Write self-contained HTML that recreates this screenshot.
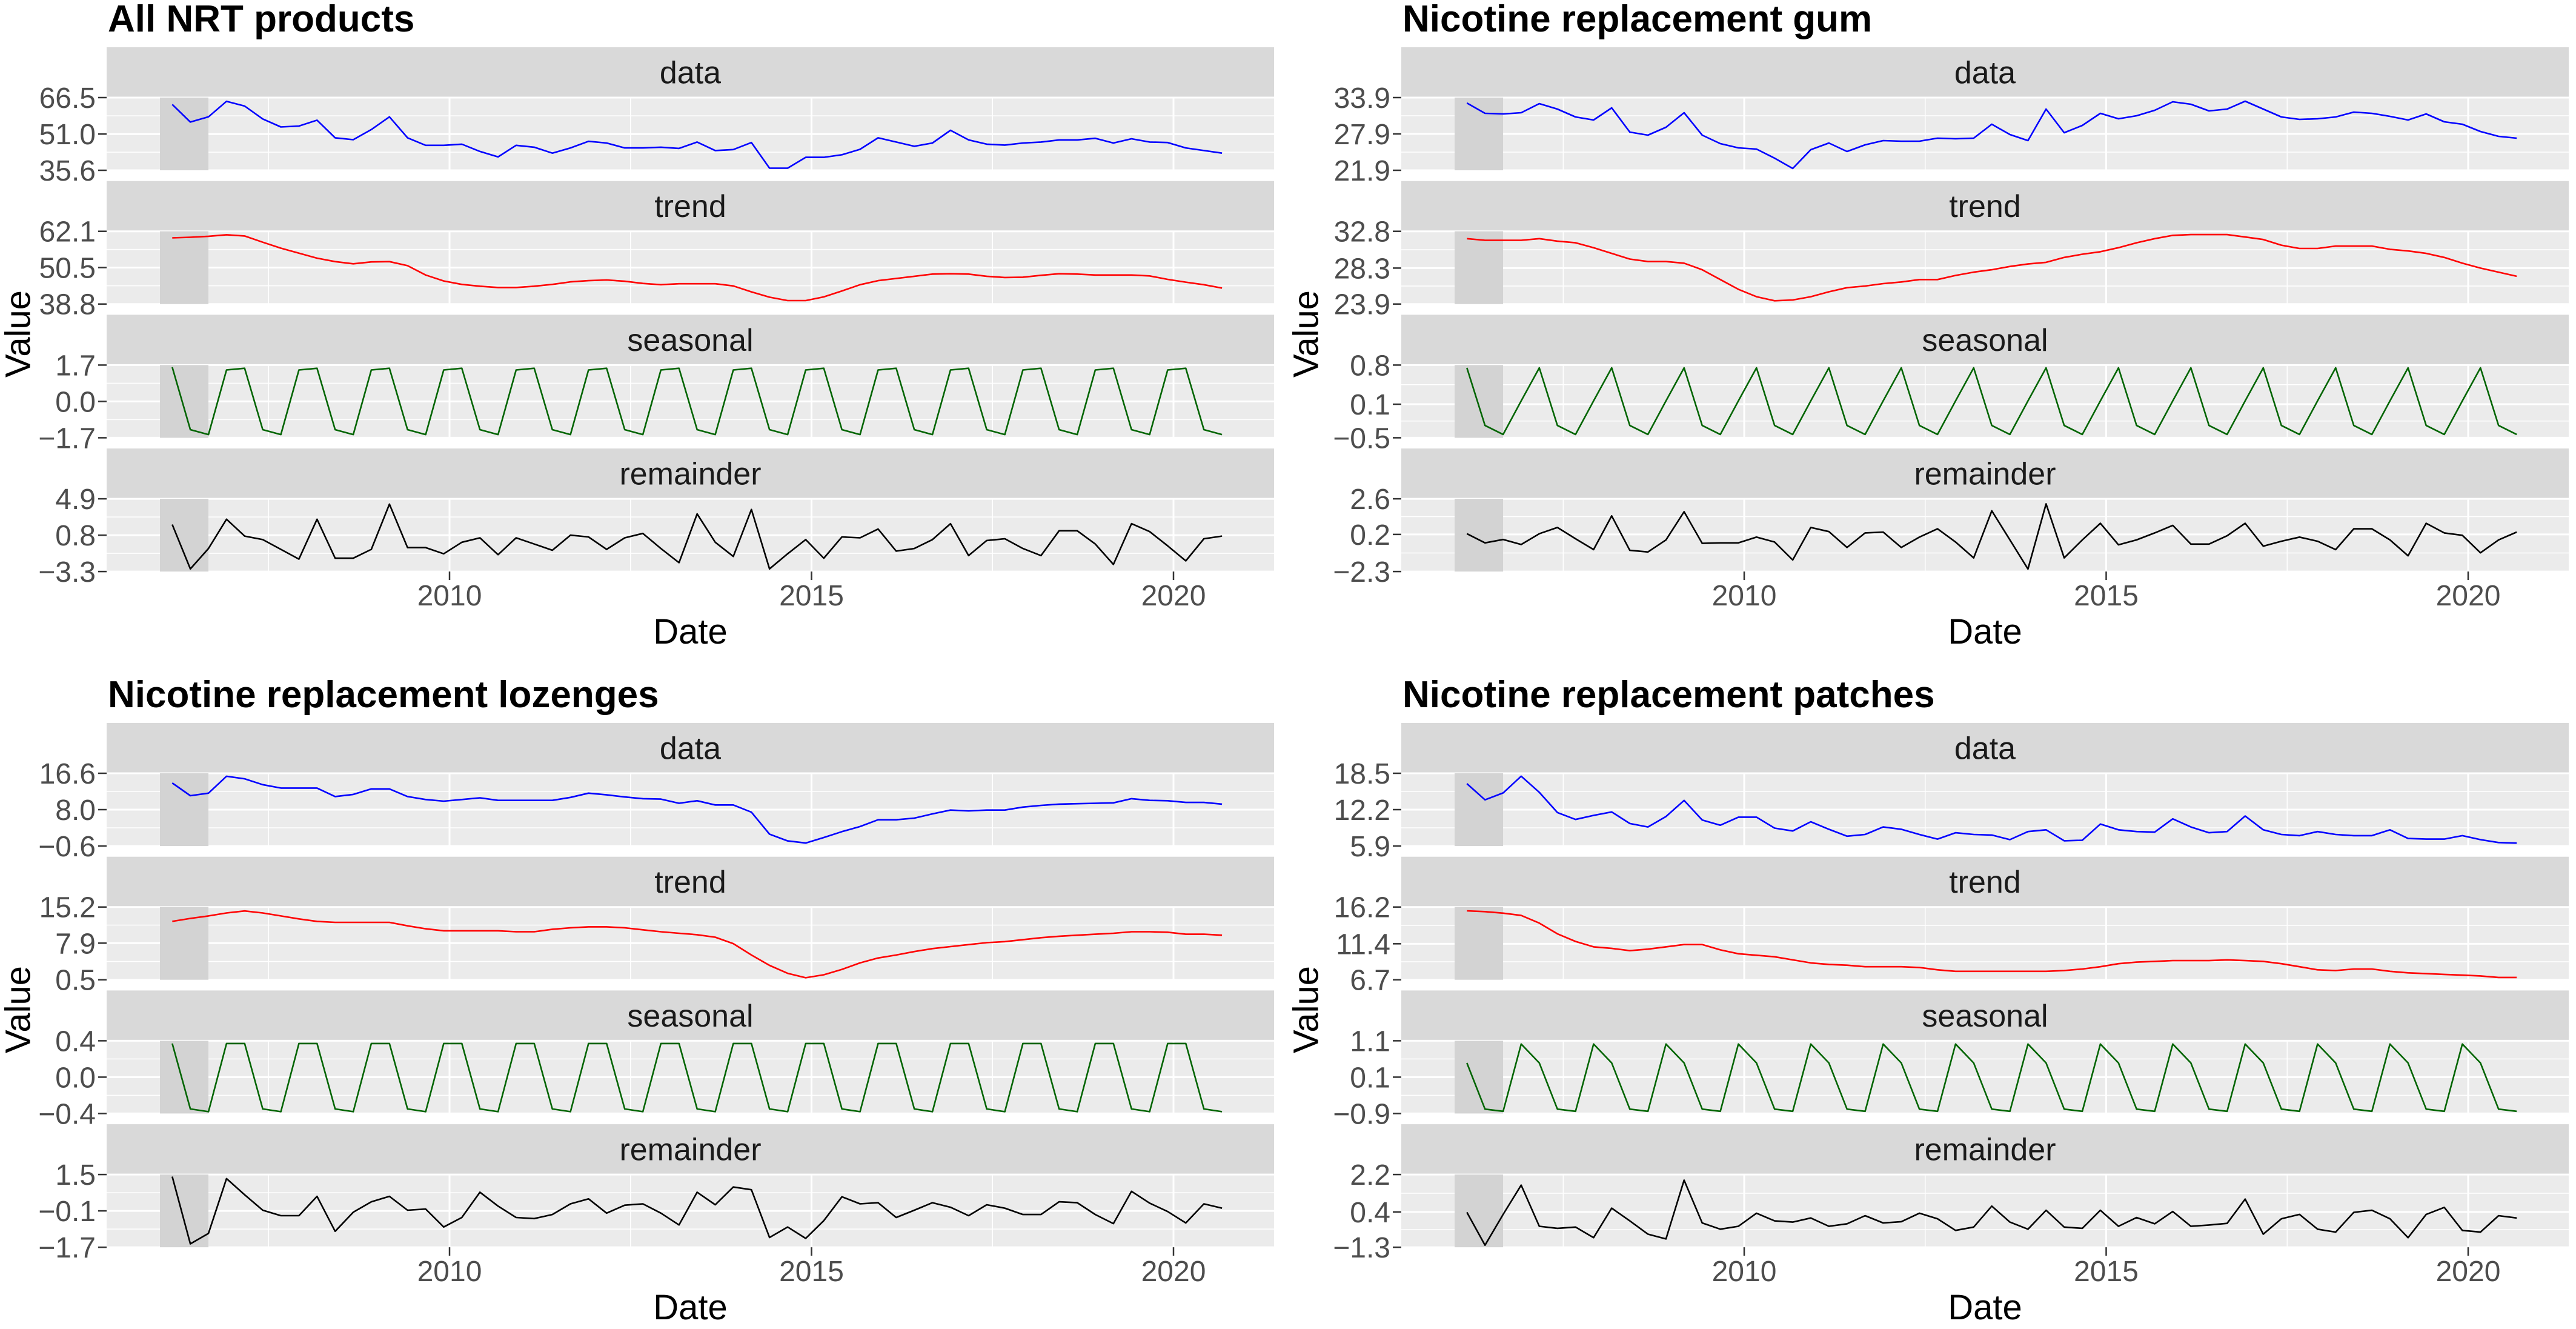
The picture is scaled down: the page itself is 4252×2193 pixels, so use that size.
<!DOCTYPE html>
<html><head><meta charset="utf-8"><style>
html,body{margin:0;padding:0;background:#fff;}
svg{display:block;font-family:"Liberation Sans",Arial,sans-serif;}
</style></head><body>
<svg id="chart" width="4252" height="2193" viewBox="0 0 4252 2193" xmlns="http://www.w3.org/2000/svg"></svg>
<script>
const componentNames = ["data","trend","seasonal","remainder"];
const panelTitles = ["All NRT products","Nicotine replacement gum","Nicotine replacement lozenges","Nicotine replacement patches"];
const xTickYears = [2010, 2015, 2020];
const startYear = 2006.17;
const stepYear = 0.25;
const shadeStart = 2006.0, shadeEnd = 2006.67;

const ticksAll = [[35.6,51.0,66.5],[38.8,50.5,62.1],[-1.7,0.0,1.7],[-3.3,0.8,4.9]];
const ticksGum = [[21.9,27.9,33.9],[23.9,28.3,32.8],[-0.5,0.1,0.8],[-2.3,0.2,2.6]];
const ticksLoz = [[-0.6,8.0,16.6],[0.5,7.9,15.2],[-0.4,0.0,0.4],[-1.7,-0.1,1.5]];
const ticksPat = [[5.9,12.2,18.5],[6.7,11.4,16.2],[-0.9,0.1,1.1],[-1.3,0.4,2.2]];

const allData = [63.6,56.1,58.3,64.9,62.9,57.4,54.0,54.4,56.9,49.4,48.6,52.9,58.3,49.4,46.2,46.2,46.7,43.6,41.3,46.2,45.4,42.9,45.1,47.9,47.2,45.1,45.1,45.4,44.9,47.6,44.0,44.4,47.4,36.5,36.5,41.1,41.1,42.2,44.5,49.4,47.6,45.8,47.2,52.6,48.5,46.7,46.3,47.2,47.6,48.5,48.5,49.2,47.2,49.0,47.6,47.4,45.1,44.0,42.9];
const allTrend = [60.0,60.2,60.5,61.0,60.6,58.6,56.7,55.1,53.5,52.4,51.7,52.3,52.4,51.1,48.1,46.2,45.1,44.5,44.1,44.1,44.5,45.1,45.9,46.3,46.5,46.1,45.4,45.0,45.3,45.3,45.3,44.6,42.7,41.0,39.9,39.9,41.1,43.0,45.0,46.3,47.0,47.7,48.4,48.5,48.4,47.7,47.3,47.4,48.0,48.5,48.4,48.1,48.1,48.1,47.8,46.7,45.8,45.0,43.9];
const allSeasonal = [1.6,-1.32,-1.55,1.47,1.55,-1.32,-1.55,1.47,1.55,-1.32,-1.55,1.47,1.55,-1.32,-1.55,1.47,1.55,-1.32,-1.55,1.47,1.55,-1.32,-1.55,1.47,1.55,-1.32,-1.55,1.47,1.55,-1.32,-1.55,1.47,1.55,-1.32,-1.55,1.47,1.55,-1.32,-1.55,1.47,1.55,-1.32,-1.55,1.47,1.55,-1.32,-1.55,1.47,1.55,-1.32,-1.55,1.47,1.55,-1.32,-1.55,1.47,1.55,-1.32,-1.55];
const allRemainder = [2.0,-3.0,-0.7,2.6,0.7,0.3,-0.8,-1.9,2.6,-1.8,-1.8,-0.8,4.3,-0.6,-0.6,-1.3,0.0,0.5,-1.4,0.5,-0.2,-0.9,0.8,0.6,-0.8,0.5,1.0,-0.7,-2.3,3.2,0.0,-1.6,3.7,-3.0,-1.3,0.3,-1.8,0.6,0.5,1.5,-1.0,-0.7,0.3,2.1,-1.5,0.2,0.4,-0.7,-1.5,1.3,1.3,-0.2,-2.5,2.1,1.2,-0.4,-2.1,0.4,0.7];

const gumData = [33.0,31.3,31.2,31.4,32.9,32.0,30.7,30.2,32.2,28.2,27.7,29.0,31.4,27.7,26.3,25.6,25.4,23.9,22.2,25.3,26.4,25.0,26.1,26.8,26.7,26.7,27.2,27.1,27.2,29.5,27.8,26.8,32.0,28.1,29.3,31.3,30.4,30.9,31.8,33.2,32.8,31.7,32.0,33.3,32.0,30.7,30.3,30.4,30.7,31.5,31.3,30.8,30.2,31.2,29.9,29.5,28.3,27.5,27.2];
const gumTrend = [31.9,31.7,31.7,31.7,31.9,31.6,31.4,30.8,30.1,29.4,29.1,29.1,28.9,28.1,26.9,25.7,24.8,24.3,24.4,24.8,25.4,25.9,26.1,26.4,26.6,26.9,26.9,27.4,27.8,28.1,28.5,28.8,29.0,29.6,30.0,30.3,30.8,31.4,31.9,32.3,32.4,32.4,32.4,32.1,31.8,31.1,30.7,30.7,31.0,31.0,31.0,30.6,30.4,30.1,29.6,28.9,28.3,27.8,27.3];
const gumSeasonal = [0.75,-0.28,-0.44,0.16,0.75,-0.28,-0.44,0.16,0.75,-0.28,-0.44,0.16,0.75,-0.28,-0.44,0.16,0.75,-0.28,-0.44,0.16,0.75,-0.28,-0.44,0.16,0.75,-0.28,-0.44,0.16,0.75,-0.28,-0.44,0.16,0.75,-0.28,-0.44,0.16,0.75,-0.28,-0.44,0.16,0.75,-0.28,-0.44,0.16,0.75,-0.28,-0.44,0.16,0.75,-0.28,-0.44,0.16,0.75,-0.28,-0.44,0.16,0.75,-0.28,-0.44];
const gumRemainder = [0.25,-0.37,-0.14,-0.48,0.25,0.67,-0.09,-0.82,1.45,-0.87,-0.98,-0.17,1.73,-0.40,-0.37,-0.37,0.02,-0.31,-1.52,0.67,0.39,-0.68,0.30,0.36,-0.68,0.02,0.58,-0.31,-1.38,1.79,-0.17,-2.13,2.26,-1.38,-0.17,0.95,-0.50,-0.17,0.30,0.81,-0.45,-0.45,0.11,0.95,-0.59,-0.26,0.02,-0.26,-0.82,0.58,0.58,-0.17,-1.24,0.95,0.30,0.14,-1.04,-0.17,0.36];

const lozData = [14.3,11.3,11.9,15.9,15.3,13.9,13.1,13.1,13.1,11.1,11.6,12.9,12.9,11.1,10.4,10.0,10.4,10.8,10.2,10.2,10.2,10.2,10.9,11.9,11.5,11.0,10.6,10.5,9.5,10.1,9.1,9.1,7.4,2.2,0.6,0.1,1.4,2.8,4.0,5.6,5.6,6.0,7.0,7.9,7.7,7.9,7.9,8.6,9.0,9.3,9.4,9.5,9.6,10.6,10.2,10.1,9.7,9.7,9.3];
const lozTrend = [12.3,12.9,13.4,14.0,14.4,14.0,13.4,12.8,12.3,12.1,12.1,12.1,12.1,11.4,10.8,10.4,10.4,10.4,10.4,10.2,10.2,10.7,11.0,11.2,11.2,11.0,10.6,10.2,9.9,9.6,9.1,7.8,5.5,3.4,1.8,0.9,1.5,2.6,3.9,4.9,5.5,6.2,6.8,7.2,7.6,8.0,8.2,8.6,9.0,9.3,9.5,9.7,9.9,10.2,10.2,10.1,9.7,9.7,9.5];
const lozSeasonal = [0.37,-0.35,-0.38,0.37,0.37,-0.35,-0.38,0.37,0.37,-0.35,-0.38,0.37,0.37,-0.35,-0.38,0.37,0.37,-0.35,-0.38,0.37,0.37,-0.35,-0.38,0.37,0.37,-0.35,-0.38,0.37,0.37,-0.35,-0.38,0.37,0.37,-0.35,-0.38,0.37,0.37,-0.35,-0.38,0.37,0.37,-0.35,-0.38,0.37,0.37,-0.35,-0.38,0.37,0.37,-0.35,-0.38,0.37,0.37,-0.35,-0.38,0.37,0.37,-0.35,-0.38];
const lozRemainder = [1.41,-1.55,-1.09,1.32,0.61,-0.07,-0.31,-0.31,0.54,-1.00,-0.16,0.30,0.54,-0.07,-0.02,-0.81,-0.39,0.72,0.11,-0.39,-0.44,-0.26,0.21,0.43,-0.20,0.15,0.21,-0.20,-0.72,0.72,0.17,0.95,0.83,-1.27,-0.81,-1.31,-0.53,0.52,0.21,0.26,-0.39,-0.07,0.26,0.06,-0.31,0.17,0.02,-0.26,-0.26,0.30,0.26,-0.26,-0.66,0.76,0.24,-0.13,-0.63,0.21,0.02];

const patData = [16.7,13.9,15.1,18.0,15.2,11.7,10.5,11.2,11.8,9.8,9.2,11.0,13.8,10.4,9.5,10.9,10.9,9.0,8.5,10.1,8.8,7.6,7.9,9.2,8.8,7.9,7.1,8.2,7.9,7.8,7.0,8.4,8.7,6.8,6.9,9.7,8.7,8.4,8.3,10.6,9.2,8.2,8.4,11.1,8.7,7.9,7.7,8.4,7.9,7.7,7.7,8.7,7.2,7.1,7.1,7.7,7.0,6.5,6.4];
const patTrend = [15.7,15.6,15.4,15.1,14.1,12.7,11.7,11.0,10.8,10.5,10.7,11.0,11.3,11.3,10.6,10.1,9.9,9.7,9.3,8.9,8.7,8.6,8.4,8.4,8.4,8.3,8.0,7.8,7.8,7.8,7.8,7.8,7.8,7.9,8.1,8.4,8.8,9.0,9.1,9.2,9.2,9.2,9.3,9.2,9.1,8.8,8.4,8.0,7.9,8.1,8.1,7.8,7.6,7.5,7.4,7.3,7.2,7.0,7.0];
const patSeasonal = [0.49,-0.78,-0.84,1.01,0.49,-0.78,-0.84,1.01,0.49,-0.78,-0.84,1.01,0.49,-0.78,-0.84,1.01,0.49,-0.78,-0.84,1.01,0.49,-0.78,-0.84,1.01,0.49,-0.78,-0.84,1.01,0.49,-0.78,-0.84,1.01,0.49,-0.78,-0.84,1.01,0.49,-0.78,-0.84,1.01,0.49,-0.78,-0.84,1.01,0.49,-0.78,-0.84,1.01,0.49,-0.78,-0.84,1.01,0.49,-0.78,-0.84,1.01,0.49,-0.78,-0.84];
const patRemainder = [0.38,-1.20,0.28,1.69,-0.29,-0.39,-0.33,-0.84,0.58,-0.03,-0.67,-0.90,1.93,-0.13,-0.43,-0.29,0.34,-0.03,-0.09,0.11,-0.29,-0.17,0.22,-0.13,-0.07,0.34,0.07,-0.49,-0.33,0.68,-0.09,-0.43,0.48,-0.33,-0.39,0.48,-0.29,0.13,-0.17,0.42,-0.29,-0.23,-0.15,1.02,-0.67,0.07,0.28,-0.43,-0.57,0.38,0.48,0.07,-0.84,0.28,0.62,-0.49,-0.57,0.22,0.11];

const panelSeries = [
  [allData, allTrend, allSeasonal, allRemainder],
  [gumData, gumTrend, gumSeasonal, gumRemainder],
  [lozData, lozTrend, lozSeasonal, lozRemainder],
  [patData, patTrend, patSeasonal, patRemainder]
];
const panelTicks = [ticksAll, ticksGum, ticksLoz, ticksPat];
const lineColors = ["#0000ff","#ff0000","#006400","#000000"];

const NS = "http://www.w3.org/2000/svg";
const svg = document.getElementById("chart");
function mk(tag, attrs, parent){
  const e = document.createElementNS(NS, tag);
  for (const k in attrs) e.setAttribute(k, attrs[k]);
  (parent || svg).appendChild(e);
  return e;
}
function fmt(v){ return v.toFixed(1).replace("-", "\u2212"); }

const quadOrigins = [[0,0,176],[2126,0,2313],[0,1115,176],[2126,1115,2313]];
const PW = 1927, STRIP_H = 83, PANEL_H = 120, PITCH = 220.7, TOP0 = 78;

for (let p = 0; p < 4; p++){
  const [ox, oy, PL] = quadOrigins[p];
  const g = mk("g", {});
  
  
  const xs = yr => PL + 566 + (yr - 2010) * 119.5;

  const title = mk("text", {x: PL + 2, y: oy + 52, "font-size": 62, "font-weight": "bold", fill: "#000"}, g);
  title.textContent = panelTitles[p];
  
  

  for (let c = 0; c < 4; c++){
    const st = oy + TOP0 + c * PITCH;
    const pt = st + STRIP_H, pb = pt + PANEL_H;
    const ticks = panelTicks[p][c];
    const vals = panelSeries[p][c];
    const ymin = ticks[0], ymax = ticks[2];
    const ys = v => pb - (v - ymin) / (ymax - ymin) * PANEL_H;

    const strip = mk("rect", {x: PL, y: st, width: PW, height: STRIP_H, fill: "#d9d9d9"}, g);
    
    
    const stxt = mk("text", {x: PL + PW/2, y: st + STRIP_H/2 + 18, "font-size": 52, fill: "#1a1a1a", "text-anchor": "middle"}, g);
    stxt.textContent = componentNames[c];
    
    

    const bg = mk("rect", {x: PL, y: pt, width: PW, height: PANEL_H, fill: "#ebebeb"}, g);
    
    

    for (let m = 0; m < 2; m++){
      const v = (ticks[m] + ticks[m+1]) / 2;
      mk("line", {x1: PL, x2: PL + PW, y1: ys(v), y2: ys(v), stroke: "#fff", "stroke-width": 1.5}, g);
    }
    [2007.5, 2012.5, 2017.5].forEach(yr => mk("line", {x1: xs(yr), x2: xs(yr), y1: pt, y2: pb, stroke: "#fff", "stroke-width": 1.5}, g));
    ticks.forEach(v => mk("line", {x1: PL, x2: PL + PW, y1: ys(v), y2: ys(v), stroke: "#fff", "stroke-width": 3}, g));
    xTickYears.forEach(yr => mk("line", {x1: xs(yr), x2: xs(yr), y1: pt, y2: pb, stroke: "#fff", "stroke-width": 3}, g));

    const shade = mk("rect", {x: xs(shadeStart), y: pt, width: xs(shadeEnd) - xs(shadeStart), height: PANEL_H, fill: "#d3d3d3"}, g);
    
    

    ticks.forEach(v => {
      mk("line", {x1: PL - 14, x2: PL, y1: ys(v), y2: ys(v), stroke: "#333", "stroke-width": 2.5}, g);
      const t = mk("text", {x: PL - 18, y: ys(v) + 17, "font-size": 48, fill: "#4d4d4d", "text-anchor": "end"}, g);
      t.textContent = fmt(v);
      
      
    });

    const pts = vals.map((v, i) => xs(startYear + i * stepYear).toFixed(1) + "," + ys(v).toFixed(1)).join(" ");
    const line = mk("polyline", {points: pts, fill: "none", stroke: lineColors[c], "stroke-width": 2.6, "stroke-linejoin": "round"}, g);
    
    

    if (c === 3){
      xTickYears.forEach(yr => {
        mk("line", {x1: xs(yr), x2: xs(yr), y1: pb, y2: pb + 14, stroke: "#333", "stroke-width": 2.5}, g);
        const t = mk("text", {x: xs(yr), y: pb + 56, "font-size": 48, fill: "#4d4d4d", "text-anchor": "middle"}, g);
        t.textContent = String(yr);
        
        
      });
    }
  }
  const xt = mk("text", {x: PL + PW/2, y: oy + 1062, "font-size": 58, fill: "#000", "text-anchor": "middle"}, g);
  xt.textContent = "Date";
  
  
  const yx = ox + 30, yy = oy + 551;
  const yt = mk("text", {x: yx, y: yy, "font-size": 58, fill: "#000", "text-anchor": "middle", "dominant-baseline": "central", transform: "rotate(-90 " + yx + " " + yy + ")"}, g);
  yt.textContent = "Value";
  
  
}
</script>
</body></html>
